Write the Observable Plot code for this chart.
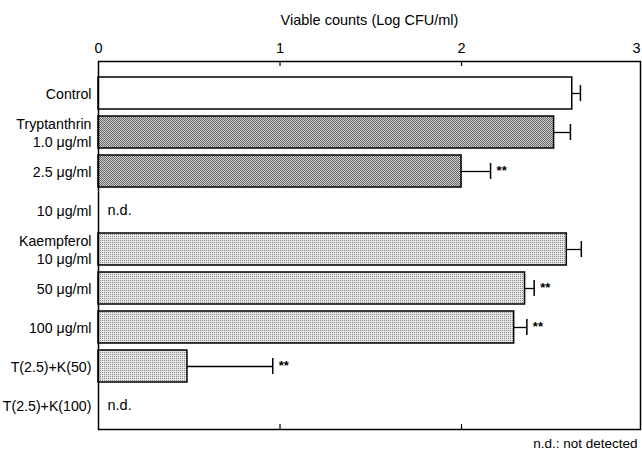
<!DOCTYPE html>
<html>
<head>
<meta charset="utf-8">
<script src="https://cdn.jsdelivr.net/npm/d3@7"></script>
<script src="https://cdn.jsdelivr.net/npm/@observablehq/plot@0.6"></script>
<style>
  html, body { margin: 0; padding: 0; background: #fff; overflow: hidden; }
  svg { display: block; }
</style>
</head>
<body>
<div id="chart"></div>
<script>
// ---- data ----
const rows = ["Control", "Tryptanthrin\n1.0 μg/ml", "2.5 μg/ml", "10 μg/ml",
  "Kaempferol\n10 μg/ml", "50 μg/ml", "100 μg/ml", "T(2.5)+K(50)", "T(2.5)+K(100)"];
const groups = ["control", "tryptanthrin", "tryptanthrin", "tryptanthrin",
  "kaempferol", "kaempferol", "kaempferol", "combo", "combo"];
const means = [2.61, 2.51, 2.0, null, 2.58, 2.35, 2.29, 0.49, null];
const errors = [0.045, 0.09, 0.16, null, 0.08, 0.05, 0.07, 0.47, null];
const signif = ["", "", "**", "", "", "**", "**", "**", ""];
const xTicks = [0, 1, 2, 3];
const xMax = 2.986;
const title = "Viable counts (Log CFU/ml)";
const footnote = "n.d.: not detected";
const ndLabel = "n.d.";

const fills = {control: "white", tryptanthrin: "url(#dark)", kaempferol: "url(#light)", combo: "url(#light)"};

const data = rows.map((row, i) => ({row, group: groups[i], mean: means[i], err: errors[i], sig: signif[i]}));
const bars = data.filter(d => d.mean != null);
const nd = data.filter(d => d.mean == null);
const sig = data.filter(d => d.sig);

// ---- layout ----
const W = 642, H = 452, mT = 61, mB = 23, mL = 98, mR = 2;
const frameH = H - mT - mB;
const font = "'Liberation Sans', Arial, Helvetica, sans-serif";

const chart = Plot.plot({
  width: W, height: H,
  marginTop: mT, marginBottom: mB, marginLeft: mL, marginRight: mR,
  style: {fontFamily: font, fontSize: "14px", color: "black", background: "white"},
  x: {domain: [0, xMax], axis: null},
  y: {domain: rows, paddingInner: 0.17, paddingOuter: 0.085, insetTop: 10, insetBottom: 2, axis: null},
  color: {type: "identity"},
  marks: [
    Plot.barX(bars, {x: "mean", y: "row", fill: d => fills[d.group], stroke: "black", strokeWidth: 1.5}),
    Plot.ruleY(bars, {y: "row", x1: "mean", x2: d => d.mean + d.err, stroke: "black", strokeWidth: 1.3}),
    Plot.tickX(bars, {x: d => d.mean + d.err, y: "row", insetTop: 8, insetBottom: 8, stroke: "black", strokeWidth: 1.5}),
    Plot.text(sig, {x: d => d.mean + d.err, y: "row", text: "sig", dx: 6, dy: -1, textAnchor: "start", fontWeight: "bold", fontSize: 13}),
    Plot.text(nd, {x: 0, y: "row", text: () => ndLabel, dx: 9, textAnchor: "start", fontSize: 14.5}),
    Plot.text(data, {y: "row", text: "row", frameAnchor: "left", dx: -7, textAnchor: "end", lineHeight: 1.22, fontSize: 14.2}),
    // top axis labels
    Plot.text(xTicks.filter(t => t <= xMax), {x: d => d, text: d => String(d), frameAnchor: "top", lineAnchor: "middle", dy: -13, fontSize: 14.5}),
    Plot.text(xTicks.filter(t => t > xMax), {text: d => String(d), frameAnchor: "top-right", lineAnchor: "middle", dy: -13, dx: 0, textAnchor: "end", fontSize: 14.5}),
    // inward ticks
    Plot.tickX(xTicks.filter(t => t > 0 && t < xMax), {x: d => d, insetBottom: frameH - 5, stroke: "black", strokeWidth: 1.2}),
    Plot.tickX(xTicks.filter(t => t > 0 && t < xMax), {x: d => d, insetTop: frameH - 5, stroke: "black", strokeWidth: 1.2}),
    Plot.frame({stroke: "black", strokeWidth: 1.5}),
    Plot.text([title], {frameAnchor: "top", lineAnchor: "middle", dy: -41, fontSize: 14.5}),
    Plot.text([footnote], {frameAnchor: "bottom-right", lineAnchor: "middle", dy: 14, dx: -3, textAnchor: "end", fontSize: 13.5})
  ]
});

const svg = chart.tagName.toLowerCase() === "svg" ? chart : chart.querySelector("svg");
const ns = "http://www.w3.org/2000/svg";
const defs = document.createElementNS(ns, "defs");
defs.innerHTML = `
<pattern id="dark" width="2" height="2" patternUnits="userSpaceOnUse">
  <rect width="2" height="2" fill="#d0d0d0"/>
  <rect x="0" y="0" width="1" height="1" fill="#666"/>
  <rect x="1" y="1" width="1" height="1" fill="#666"/>
</pattern>
<pattern id="light" width="2" height="2" patternUnits="userSpaceOnUse">
  <rect width="2" height="2" fill="#e6e6e6"/>
  <rect x="0" y="0" width="1" height="1" fill="#8c8c8c"/>
</pattern>`;
svg.insertBefore(defs, svg.firstChild);
document.getElementById("chart").appendChild(chart);
</script>
</body>
</html>
